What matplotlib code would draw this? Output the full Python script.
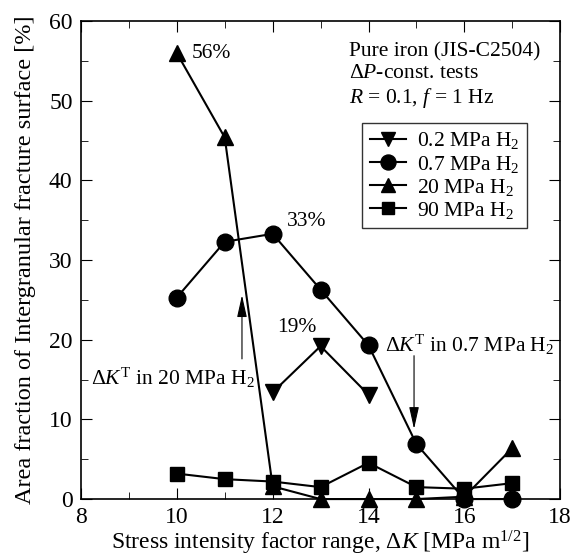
import matplotlib
matplotlib.use("Agg")
import matplotlib.pyplot as plt
from matplotlib.ticker import MultipleLocator

plt.rcParams['font.family'] = ['Liberation Serif', 'DejaVu Serif']
plt.rcParams['mathtext.fontset'] = 'custom'
plt.rcParams['mathtext.rm'] = 'Liberation Serif'
plt.rcParams['mathtext.it'] = 'Liberation Serif:italic'

# data
dk_02 = [12, 13, 14]
af_02 = [13.4, 19.2, 13.1]
dk_all = [10, 11, 12, 13, 14, 15, 16, 17]
af_07 = [25.3, 32.3, 33.3, 26.3, 19.3, 6.9, 0.0, 0.0]
af_20 = [56.0, 45.4, 1.6, 0.0, 0.0, 0.0, 0.3, 6.4]
af_90 = [3.2, 2.5, 2.2, 1.5, 4.55, 1.5, 1.3, 2.0]

fig = plt.figure(figsize=(5.74, 5.57), dpi=100)
ax = fig.add_axes([0.141, 0.104, 0.835, 0.858])

kw = dict(color='black', lw=1.5, clip_on=False)
ax.plot(dk_02, af_02, marker='v', ms=11, label=r'0.2 MPa H$_2$', zorder=3, **kw)
ax.plot(dk_all, af_07, marker='o', ms=12, label=r'0.7 MPa H$_2$', zorder=3.5, **kw)
ax.plot(dk_all, af_20, marker='^', ms=11, label=r'20 MPa H$_2$', zorder=3, **kw)
ax.plot(dk_all, af_90, marker='s', ms=9.5, label=r'90 MPa H$_2$', zorder=4, **kw)

ax.set_xlim(8, 18)
ax.set_ylim(0, 60)
ax.xaxis.set_major_locator(MultipleLocator(2))
ax.xaxis.set_minor_locator(MultipleLocator(1))
ax.yaxis.set_major_locator(MultipleLocator(10))
ax.yaxis.set_minor_locator(MultipleLocator(5))
ax.tick_params(which='both', direction='in', top=True, right=True, labelsize=17)
ax.tick_params(which='major', length=8, pad=6)
ax.tick_params(which='minor', length=5)
for s in ax.spines.values():
    s.set_linewidth(1.2)

ax.set_xlabel(r'Stress intensity factor range, $\Delta K$ [MPa m$^{1/2}$]', fontsize=17, labelpad=0)
ax.set_ylabel('Area fraction of Intergranular fracture surface [%]', fontsize=17.5, labelpad=9)

fs = 15.5
ax.text(10.32, 56, '56%', fontsize=fs, va='center')
ax.text(12.3, 34.8, '33%', fontsize=fs, va='center')
ax.text(12.1, 21.6, '19%', fontsize=fs, va='center')
ax.text(13.6, 56.2, 'Pure iron (JIS-C2504)', fontsize=fs, va='center')
ax.text(13.6, 53.4, r'$\Delta P$-const. tests', fontsize=fs, va='center')
ax.text(13.6, 50.3, r'$R$ = 0.1, $f$ = 1 Hz', fontsize=fs, va='center')

arrow = dict(arrowstyle='-|>,head_length=0.9,head_width=0.2', color='black',
             lw=0.8, mutation_scale=15, shrinkA=0, shrinkB=0)
ax.annotate('', xy=(11.36, 25.6), xytext=(11.36, 17.6), arrowprops=arrow)
ax.text(8.2, 15.2, r'$\Delta K^{\rm T}$ in 20 MPa H$_2$', fontsize=fs, va='center')
ax.annotate('', xy=(14.95, 8.8), xytext=(14.95, 18.0), arrowprops=arrow)
ax.text(16.1, 19.3, r'$\Delta K^{\rm T}$ in 0.7 MPa H$_2$', fontsize=fs, va='center', ha='center')

leg = ax.legend(loc='upper right', bbox_to_anchor=(0.931, 0.787), fontsize=fs,
                frameon=True, fancybox=False, edgecolor='black', handlelength=1.7,
                handletextpad=0.5, borderpad=0.35, labelspacing=0.1, borderaxespad=0,
                markerscale=0.9)
leg.get_frame().set_linewidth(1.0)

fig.savefig('out.png', dpi=100)
